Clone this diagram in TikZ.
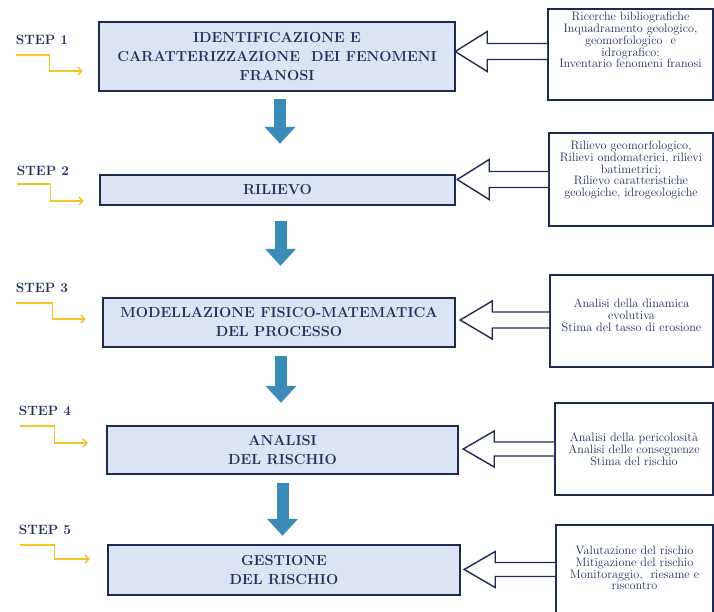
\documentclass[tikz,border=0pt]{standalone}
\usetikzlibrary{arrows.meta,calc}

\definecolor{navy}{RGB}{31,42,79}
\definecolor{textnavy}{RGB}{33,48,92}
\definecolor{boxfill}{RGB}{220,228,243}
\definecolor{stepyellow}{RGB}{242,196,40}
\definecolor{flowblue}{RGB}{58,140,182}

\tikzset{
    mainbox/.style={draw=navy, fill=boxfill, line width=1.6pt, inner sep=0pt, align=center,
        text=textnavy, font=\bfseries\fontsize{14.5}{19}\selectfont},
    sidebox/.style={draw=navy, fill=white, line width=1.6pt, inner sep=0pt},
    sidetext/.style={inner sep=0pt, align=center, text=textnavy,
        font=\fontsize{12.2}{11.8}\selectfont},
    steplabel/.style={inner sep=0pt, text=textnavy, font=\bfseries\fontsize{13.5}{15}\selectfont},
    yarrow/.style={draw=stepyellow, line width=1.4pt, -{Straight Barb[length=4pt,width=8pt]}},
    flow/.style={draw=flowblue, line width=12pt, -{Triangle[width=30pt,length=17pt]}},
    hollow/.style={draw=navy, fill=white, line width=1.4pt, line join=miter},
}

\begin{document}
\begin{tikzpicture}[x=1pt, y=-1pt]
    \useasboundingbox (0,0) rectangle (714,612);
    % main steps
    \node[mainbox, minimum width=356pt, minimum height=69pt] (b1) at (277,56.5)
        {IDENTIFICAZIONE E\\CARATTERIZZAZIONE\ \ DEI FENOMENI\\FRANOSI};
    \node[mainbox, minimum width=355pt, minimum height=30pt] (b2) at (277.5,190) {RILIEVO};
    \node[mainbox, minimum width=352pt, minimum height=49pt] (b3) at (279,322.5)
        {MODELLAZIONE FISICO-MATEMATICA\\DEL PROCESSO};
    \node[mainbox, minimum width=351pt, minimum height=48pt] (b4) at (282.5,450) {ANALISI\\DEL RISCHIO};
    \node[mainbox, minimum width=352pt, minimum height=50pt] (b5) at (284,570) {GESTIONE\\DEL RISCHIO};
    % side boxes
    \node[sidebox, minimum width=165pt, minimum height=91pt] (r1) at (630.5,54.5) {};
    \node[sidebox, minimum width=164pt, minimum height=93pt] (r2) at (631,179.5) {};
    \node[sidebox, minimum width=163pt, minimum height=92pt] (r3) at (631.5,321) {};
    \node[sidebox, minimum width=158pt, minimum height=92pt] (r4) at (634,449) {};
    \node[sidebox, minimum width=157pt, minimum height=95pt] (r5) at (634.5,572.5) {};
    \node[sidetext] (t1) at (630.5,40) {Ricerche bibliografiche\\Inquadramento geologico,\\
        geomorfologico\ \ e\\idrografico;\\Inventario fenomeni franosi};
    \node[sidetext] (t2) at (631,170) {Rilievo geomorfologico,\\Rilievi ondomaterici, rilievi\\
        batimetrici;\\Rilievo caratteristiche\\geologiche, idrogeologiche};
    \node[sidetext] (t3) at (631.5,315) {Analisi della dinamica\\evolutiva\\Stima del tasso di erosione};
    \node[sidetext] (t4) at (634,449) {Analisi della pericolosità\\Analisi delle conseguenze\\
        Stima del rischio};
    \node[sidetext] (t5) at (634.5,568) {Valutazione del rischio\\Mitigazione del rischio\\
        Monitoraggio,\ \ riesame e\\riscontro};
    % step labels
    \node[steplabel] (s1) at (42,40) {STEP 1};
    \node[steplabel] (s2) at (43,171) {STEP 2};
    \node[steplabel] (s3) at (42,288) {STEP 3};
    \node[steplabel] (s4) at (45,411) {STEP 4};
    \node[steplabel] (s5) at (45,530) {STEP 5};
    \draw[yarrow] ($(s1.south west)+(0,10)$) -- ++(34,0) -- ++(0,16) -- ++(33,0);
    \draw[yarrow] ($(s2.south west)+(0,8)$) -- ++(34,0) -- ++(0,17) -- ++(33,0);
    \draw[yarrow] ($(s3.south west)+(0,10)$) -- ++(37,0) -- ++(0,16) -- ++(33,0);
    \draw[yarrow] ($(s4.south west)+(1,10)$) -- ++(35,0) -- ++(0,17) -- ++(33,0);
    \draw[yarrow] ($(s5.south west)+(1,10)$) -- ++(35,0) -- ++(0,14) -- ++(35,0);
    % flow between steps
    \draw[flow] ($(b1.south)+(3,7)$) -- ++(0,45);
    \draw[flow] ($(b2.south)+(3,15)$) -- ++(0,45);
    \draw[flow] ($(b3.south)+(2,8)$) -- ++(0,47);
    \draw[flow] ($(b4.south)+(0,8)$) -- ++(0,53);
    % inputs
    \draw[hollow] ($(r1.west)+(0,-11)$) -- ++(-60,0) -- ++(0,-12) -- ++(-32,20) -- ++(32,20) -- ++(0,-12) -- ++(60,0);
    \draw[hollow] ($(r2.west)+(0,-8)$) -- ++(-59,0) -- ++(0,-12) -- ++(-32,20) -- ++(32,20) -- ++(0,-12) -- ++(59,0);
    \draw[hollow] ($(r3.west)+(0,-9)$) -- ++(-57,0) -- ++(0,-11) -- ++(-32,19) -- ++(32,19) -- ++(0,-11) -- ++(57,0);
    \draw[hollow] ($(r4.west)+(0,-7)$) -- ++(-60,0) -- ++(0,-11) -- ++(-31,18) -- ++(31,18) -- ++(0,-11) -- ++(60,0);
    \draw[hollow] ($(r5.west)+(0,-10)$) -- ++(-60,0) -- ++(0,-11) -- ++(-31,18) -- ++(31,18) -- ++(0,-11) -- ++(60,0);
\end{tikzpicture}
\end{document}
